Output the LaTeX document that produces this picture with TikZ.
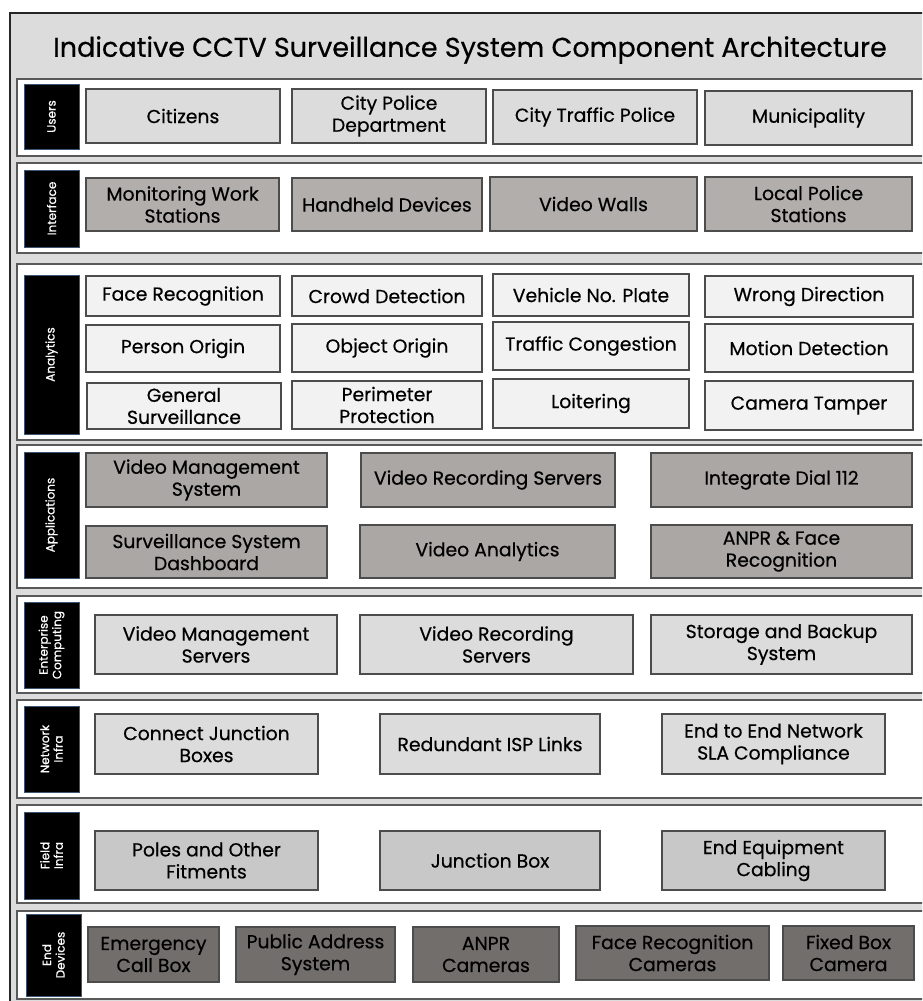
\documentclass[tikz,border=0pt]{standalone}
\usepackage{fontspec}
\setmainfont{Poppins}[FakeBold=0.5]
\definecolor{framebg}{HTML}{DCDCDC}
\definecolor{litefill}{HTML}{DCDCDC}
\definecolor{midfill}{HTML}{B1AEAC}
\definecolor{palefill}{HTML}{F2F2F2}
\definecolor{deepfill}{HTML}{AAA7A5}
\definecolor{fieldfill}{HTML}{C8C8C8}
\definecolor{darkfill}{HTML}{726E6C}
\definecolor{tagedge}{HTML}{3C5570}
\begin{document}
\begin{tikzpicture}[x=1pt,y=-1pt,
  every node/.style={inner sep=0pt,outer sep=0pt,align=center},
  band/.style={draw=black!65,line width=1.5pt,fill=white},
  tag/.style={draw=tagedge,fill=black,line width=1pt,rotate=90,
    text=white,font=\fontsize{12}{13.5}\selectfont},
  cell/.style={draw=black!70,line width=1.1pt,font=\fontsize{18.8}{22}\selectfont},
  lite/.style={cell,fill=litefill},
  mid/.style={cell,fill=midfill},
  pale/.style={cell,fill=palefill},
  deep/.style={cell,fill=deepfill},
  fieldc/.style={cell,fill=fieldfill},
  dark/.style={cell,fill=darkfill}]
\newcommand\bx[7]{\node[#6,minimum width={(#4-#2)*1pt},minimum height={(#5-#3)*1pt}]
  (#1) at ({(#2+#4)/2},{(#3+#5)/2}) {#7};}
\newcommand\tg[6]{\node[tag,minimum width={(#5-#3)*1pt},minimum height={(#4-#2)*1pt}]
  (#1) at ({(#2+#4)/2},{(#3+#5)/2}) {#6};}
\useasboundingbox (0,0) rectangle (922,1001);
\clip (0,0) rectangle (922,1001);
% outer frame
\draw[draw=black!85,line width=1.5pt,fill=framebg] (10,13) rectangle (940,1010);
\node[font=\fontsize{27}{30}\selectfont] (title) at (470,50) {Indicative CCTV Surveillance System Component Architecture};
% layer bands
\foreach \t/\b in {79/156,163/253,264/440,445/588,596/693,700/798,805/903,911/999}
  \draw[band] (17,\t) rectangle (935,\b);
% layer tags
\tg{tusers}{24}{84}{79}{149}{Users}
\tg{tinterface}{24}{170}{79}{247}{Interface}
\tg{tanalytics}{24}{275}{79}{434}{Analytics}
\tg{tapps}{24}{452}{79}{578}{Applications}
\tg{tenterprise}{24}{602}{79}{688}{Enterprise\\Computing}
\tg{tnetwork}{24}{706}{79}{792}{Network\\Infra}
\tg{tfield}{24}{812}{79}{899}{Field\\Infra}
\tg{tend}{26}{914}{81}{996}{End\\Devices}
% users
\bx{citizens}{86}{89}{280}{143}{lite}{Citizens}
\bx{cpd}{292}{89}{486}{143}{lite}{City Police\\Department}
\bx{ctp}{493}{90}{697}{144}{lite}{City Traffic Police}
\bx{muni}{705}{91}{912}{145}{lite}{Municipality}
% interface
\bx{mws}{86}{178}{279}{231}{mid}{Monitoring Work\\Stations}
\bx{hhd}{292}{178}{482}{231}{mid}{Handheld Devices}
\bx{vw}{490}{177}{697}{231}{mid}{Video Walls}
\bx{lps}{705}{177}{912}{231}{mid}{Local Police\\Stations}
% analytics
\bx{face}{86}{276}{280}{316}{pale}{Face Recognition}
\bx{crowd}{292}{276}{482}{316}{pale}{Crowd Detection}
\bx{vnp}{493}{274}{689}{316}{pale}{Vehicle No. Plate}
\bx{wrong}{705}{276}{913}{317}{pale}{Wrong Direction}
\bx{person}{86}{325}{280}{372}{pale}{Person Origin}
\bx{object}{292}{324}{482}{372}{pale}{Object Origin}
\bx{traffic}{493}{322}{689}{370}{pale}{Traffic Congestion}
\bx{motion}{705}{324}{913}{372}{pale}{Motion Detection}
\bx{general}{87}{383}{281}{429}{pale}{General\\Surveillance}
\bx{perim}{292}{381}{482}{429}{pale}{Perimeter\\Protection}
\bx{loiter}{493}{379}{689}{428}{pale}{Loitering}
\bx{tamper}{705}{381}{913}{430}{pale}{Camera Tamper}
% applications
\bx{vms}{86}{453}{327}{507}{deep}{Video Management\\System}
\bx{vrsapp}{361}{453}{615}{507}{deep}{Video Recording Servers}
\bx{dial}{651}{453}{912}{507}{deep}{Integrate Dial 112}
\bx{dash}{86}{526}{327}{578}{deep}{Surveillance System\\Dashboard}
\bx{va}{360}{525}{615}{578}{deep}{Video Analytics}
\bx{anprface}{651}{525}{912}{578}{deep}{ANPR \& Face\\Recognition}
% enterprise computing
\bx{vmsrv}{95}{615}{337}{674}{lite}{Video Management\\Servers}
\bx{vrsrv}{360}{615}{633}{674}{lite}{Video Recording\\Servers}
\bx{storage}{651}{615}{912}{674}{lite}{Storage and Backup\\System}
% network infra
\bx{cjb}{95}{714}{318}{774}{lite}{Connect Junction\\Boxes}
\bx{isp}{380}{714}{600}{774}{lite}{Redundant ISP Links}
\bx{sla}{662}{714}{885}{774}{lite}{End to End Network\\SLA Compliance}
% field infra
\bx{poles}{95}{831}{318}{890}{fieldc}{Poles and Other\\Fitments}
\bx{jbox}{380}{831}{600}{890}{fieldc}{Junction Box}
\bx{cabling}{662}{831}{885}{890}{fieldc}{End Equipment\\Cabling}
% end devices
\bx{ecb}{88}{927}{219}{982}{dark}{Emergency\\Call Box}
\bx{pas}{236}{927}{395}{982}{dark}{Public Address\\System}
\bx{anprcam}{413}{927}{559}{982}{dark}{ANPR\\Cameras}
\bx{frcam}{576}{926}{769}{980}{dark}{Face Recognition\\Cameras}
\bx{fbc}{783}{926}{914}{980}{dark}{Fixed Box\\Camera}
\end{tikzpicture}
\end{document}
